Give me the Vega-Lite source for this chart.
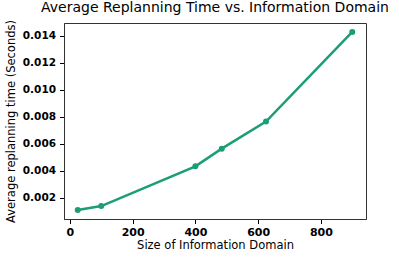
{
  "$schema": "https://vega.github.io/schema/vega-lite/v6.json",
  "autosize": "none",
  "padding": {"left": 64, "top": 23, "right": 33, "bottom": 40},
  "width": 302,
  "height": 196,
  "background": "white",
  "title": {"text": "Average Replanning Time vs. Information Domain", "font": "DejaVu Sans", "fontSize": 14, "fontWeight": "normal", "color": "#000", "anchor": "middle", "offset": 5},
  "data": {"values": [
    {"size": 25, "time": 0.00108},
    {"size": 100, "time": 0.00138},
    {"size": 400, "time": 0.00433},
    {"size": 484, "time": 0.00564},
    {"size": 625, "time": 0.00765},
    {"size": 900, "time": 0.0143}
  ]},
  "encoding": {
    "x": {"field": "size", "type": "quantitative", "scale": {"domain": [-18.75, 943.75], "nice": false, "zero": false},
      "axis": {"title": "Size of Information Domain", "values": [0, 200, 400, 600, 800], "grid": false, "labelFont": "DejaVu Sans", "labelFontWeight": "bold", "labelFontSize": 11, "labelColor": "#000", "titleFont": "DejaVu Sans", "titleFontWeight": "normal", "titleFontSize": 11.5, "titleColor": "#000", "tickColor": "#000", "tickSize": 4.5, "labelPadding": 3, "titlePadding": 2, "domainColor": "#333", "labelFlush": false}},
    "y": {"field": "time", "type": "quantitative", "scale": {"domain": [0.00042, 0.01496], "nice": false, "zero": false},
      "axis": {"title": "Average replanning time (Seconds)", "values": [0.002, 0.004, 0.006, 0.008, 0.01, 0.012, 0.014], "format": ".3f", "grid": false, "labelFont": "DejaVu Sans", "labelFontWeight": "bold", "labelFontSize": 10.5, "labelColor": "#000", "titleFont": "DejaVu Sans", "titleFontWeight": "normal", "titleFontSize": 11.5, "titleColor": "#000", "tickColor": "#000", "tickSize": 4.5, "labelPadding": 4, "titlePadding": 6, "domainColor": "#333", "labelFlush": false}}
  },
  "layer": [
    {"mark": {"type": "line", "color": "#1b9e77", "strokeWidth": 2.5}},
    {"mark": {"type": "point", "filled": true, "color": "#1b9e77", "opacity": 1, "size": 36}}
  ],
  "config": {"view": {"stroke": "#333", "strokeWidth": 1}}
}
